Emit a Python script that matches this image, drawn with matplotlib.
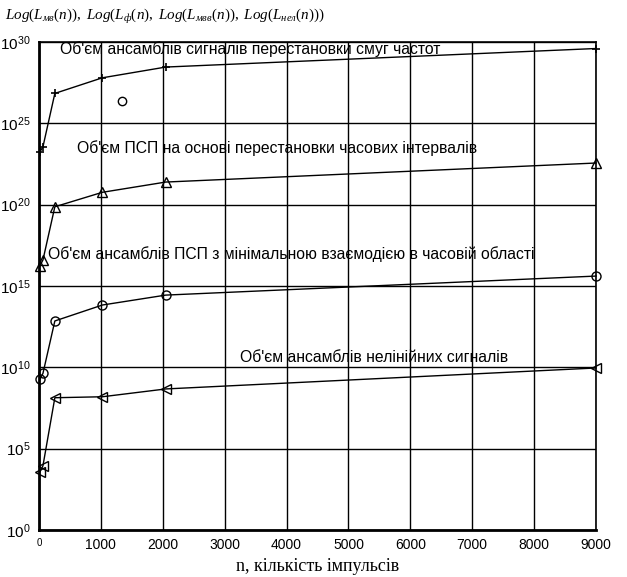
import matplotlib
matplotlib.use("Agg")
import matplotlib.pyplot as plt
import numpy as np

plt.rcParams['mathtext.fontset'] = 'custom'
plt.rcParams['mathtext.rm'] = 'Liberation Serif'
plt.rcParams['mathtext.it'] = 'Liberation Serif:italic'
plt.rcParams['font.family'] = ['Liberation Sans', 'DejaVu Sans']

n = [16, 64, 256, 1024, 2048, 9000]
exp_band = [23.25, 23.56, 26.84, 27.80, 28.46, 29.60]
exp_time = [16.25, 16.60, 19.87, 20.76, 21.39, 22.56]
exp_min = [9.28, 9.63, 12.85, 13.83, 14.44, 15.61]
exp_nonlin = [3.58, 3.95, 8.13, 8.19, 8.67, 9.96]
outlier_n = [1336]
outlier_exp = [26.4]

labels = [
    "Об'єм ансамблів сигналів перестановки смуг частот",
    "Об'єм ПСП на основі перестановки часових інтервалів",
    "Об'єм ансамблів ПСП з мінімальною взаємодією в часовій області",
    "Об'єм ансамблів нелінійних сигналів",
]
xticks = [0, 1000, 2000, 3000, 4000, 5000, 6000, 7000, 8000, 9000]
yexps = [0, 5, 10, 15, 20, 25, 30]

fig = plt.figure(figsize=(6.27, 5.77), dpi=100)
ax = fig.add_axes([0.0622, 0.0815, 0.8884, 0.8457])
ax.set_yscale('log')

def pw(e):
    return [10.0 ** v for v in e]

kw = dict(color='black', lw=1, clip_on=False, zorder=3)
ax.plot(n, pw(exp_band), marker='+', ms=6, mew=1.2, **kw)
ax.plot(n, pw(exp_time), marker='^', ms=6.5, mfc='none', mew=1, **kw)
ax.plot(n, pw(exp_min), marker='o', ms=6.5, mfc='none', mew=1, **kw)
ax.plot(n, pw(exp_nonlin), marker='<', ms=6.5, mfc='none', mew=1, **kw)
ax.plot(outlier_n, pw(outlier_exp), ls='none', color='black', marker='o', ms=6, mfc='none', mew=1)

ax.set_xlim(0, 9000)
ax.set_ylim(1, 1e30)
ax.set_xticks(xticks)
ax.set_xticklabels([str(v) for v in xticks])
ax.set_yticks([10.0 ** e for e in yexps])
ax.yaxis.set_minor_locator(matplotlib.ticker.NullLocator())
ax.tick_params(direction='in', length=0, labelsize=11, pad=6)
ax.tick_params(axis='x', labelsize=10, pad=6)
ax.get_xticklabels()[0].set_fontsize(7)
ax.grid(True, color='black', lw=1)
for s in ax.spines.values():
    s.set_linewidth(1.2)
ax.spines['left'].set_linewidth(2)
ax.spines['bottom'].set_linewidth(2)

fs = 11.3
ax.text(339, 10 ** 29.56, labels[0], fontsize=fs, va='center', ha='left')
ax.text(614, 10 ** 23.45, labels[1], fontsize=fs, va='center', ha='left')
ax.text(145, 10 ** 16.95, labels[2], fontsize=fs, va='center', ha='left')
ax.text(3248, 10 ** 10.6, labels[3], fontsize=fs, va='center', ha='left')

fig.text(5 / 627, 1 - 17 / 577,
         r"$Log(L_{мв}(n)),\ Log(L_{ф}(n),\ Log(L_{мвв}(n)),\ Log(L_{нел}(n)))$",
         fontsize=10.9, va='center', ha='left')
ax.set_xlabel("n, кількість імпульсів", family=['Liberation Serif'], fontsize=13, labelpad=4)

fig.savefig("out.png", dpi=100)
